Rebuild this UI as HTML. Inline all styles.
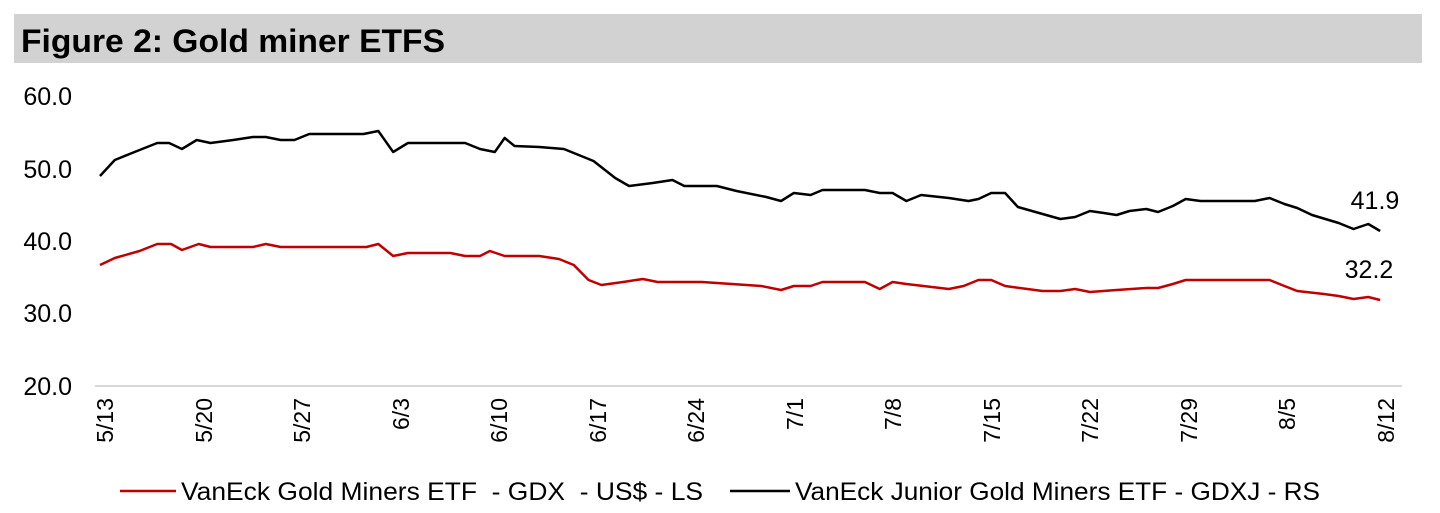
<!DOCTYPE html>
<html><head><meta charset="utf-8"><style>
body{margin:0;background:#fff;}
svg{display:block;font-family:"Liberation Sans",Arial,sans-serif;}
text{white-space:pre;}
</style></head><body>
<svg width="1440" height="513" viewBox="0 0 1440 513" xmlns="http://www.w3.org/2000/svg">
<rect x="14" y="14" width="1408" height="49" fill="#d3d2d3"/>
<text x="21" y="52" font-size="32" font-weight="bold" fill="#000" textLength="424" lengthAdjust="spacingAndGlyphs">Figure 2: Gold miner ETFS</text>
<g font-size="25" fill="#000" text-anchor="end">
<text x="72" y="105">60.0</text>
<text x="72" y="178">50.0</text>
<text x="72" y="250">40.0</text>
<text x="72" y="322">30.0</text>
<text x="72" y="395">20.0</text>
</g>
<line x1="95" y1="386" x2="1402" y2="386" stroke="#d9d9d9" stroke-width="2"/>
<g font-size="23" fill="#000" text-anchor="end">
<text transform="translate(113,398) rotate(-90)">5/13</text>
<text transform="translate(212,398) rotate(-90)">5/20</text>
<text transform="translate(310,398) rotate(-90)">5/27</text>
<text transform="translate(409,398) rotate(-90)">6/3</text>
<text transform="translate(507,398) rotate(-90)">6/10</text>
<text transform="translate(606,398) rotate(-90)">6/17</text>
<text transform="translate(704,398) rotate(-90)">6/24</text>
<text transform="translate(803,398) rotate(-90)">7/1</text>
<text transform="translate(901,398) rotate(-90)">7/8</text>
<text transform="translate(1000,398) rotate(-90)">7/15</text>
<text transform="translate(1098,398) rotate(-90)">7/22</text>
<text transform="translate(1197,398) rotate(-90)">7/29</text>
<text transform="translate(1295,398) rotate(-90)">8/5</text>
<text transform="translate(1394,398) rotate(-90)">8/12</text>
</g>
<g transform="translate(100,0) scale(0.987,1) translate(-100,0)" fill="none" stroke-width="2.5" stroke-linejoin="round">
<polyline stroke="#000" points="100,176 115,160 135,152 158,143 170,143 183,149 198,140 212,143 235,140 255,137 268,137 283,140 297,140 312,134 340,134 367,134 382,131 397,152 412,143 440,143 455,143 470,143 485,149 500,152 510,138 520,146 545,147 570,149 585,155 600,161 622,178 636,186 660,183 680,180 692,186 710,186 725,186 745,191 775,197 790,201 803,193 820,195 832,190 860,190 875,190 890,193 903,193 917,201 932,195 960,198 980,201 990,199 1003,193 1017,193 1030,207 1055,214 1073,219 1088,217 1103,211 1117,213 1130,215 1143,211 1160,209 1172,212 1187,206 1200,199 1215,201 1245,201 1270,201 1285,198 1300,204 1313,208 1328,215 1355,223 1370,229 1385,224 1397,231"/>
<polyline stroke="#c00000" points="100,265 115,258 140,251 158,244 172,244 183,250 200,244 212,247 255,247 268,244 283,247 370,247 382,244 397,256 412,253 455,253 470,256 485,256 495,251 510,256 545,256 565,259 580,265 595,280 608,285 630,282 650,279 665,282 710,282 770,286 790,290 803,286 820,286 832,282 875,282 890,289 903,282 917,284 960,289 975,286 990,280 1003,280 1017,286 1055,291 1073,291 1088,289 1103,292 1130,290 1160,288 1172,288 1187,284 1200,280 1285,280 1300,286 1313,291 1340,294 1355,296 1370,299 1385,297 1397,300"/>
</g>
<text x="1375" y="209" font-size="25" text-anchor="middle">41.9</text>
<text x="1369" y="278" font-size="25" text-anchor="middle">32.2</text>
<line x1="120" y1="491" x2="176" y2="491" stroke="#c00000" stroke-width="2.5"/>
<text x="181" y="500" font-size="25" textLength="522" lengthAdjust="spacingAndGlyphs">VanEck Gold Miners ETF  - GDX  - US$ - LS</text>
<line x1="730" y1="491" x2="790" y2="491" stroke="#000" stroke-width="2.5"/>
<text x="795" y="500" font-size="25" textLength="525" lengthAdjust="spacingAndGlyphs">VanEck Junior Gold Miners ETF - GDXJ - RS</text>
</svg>
</body></html>
